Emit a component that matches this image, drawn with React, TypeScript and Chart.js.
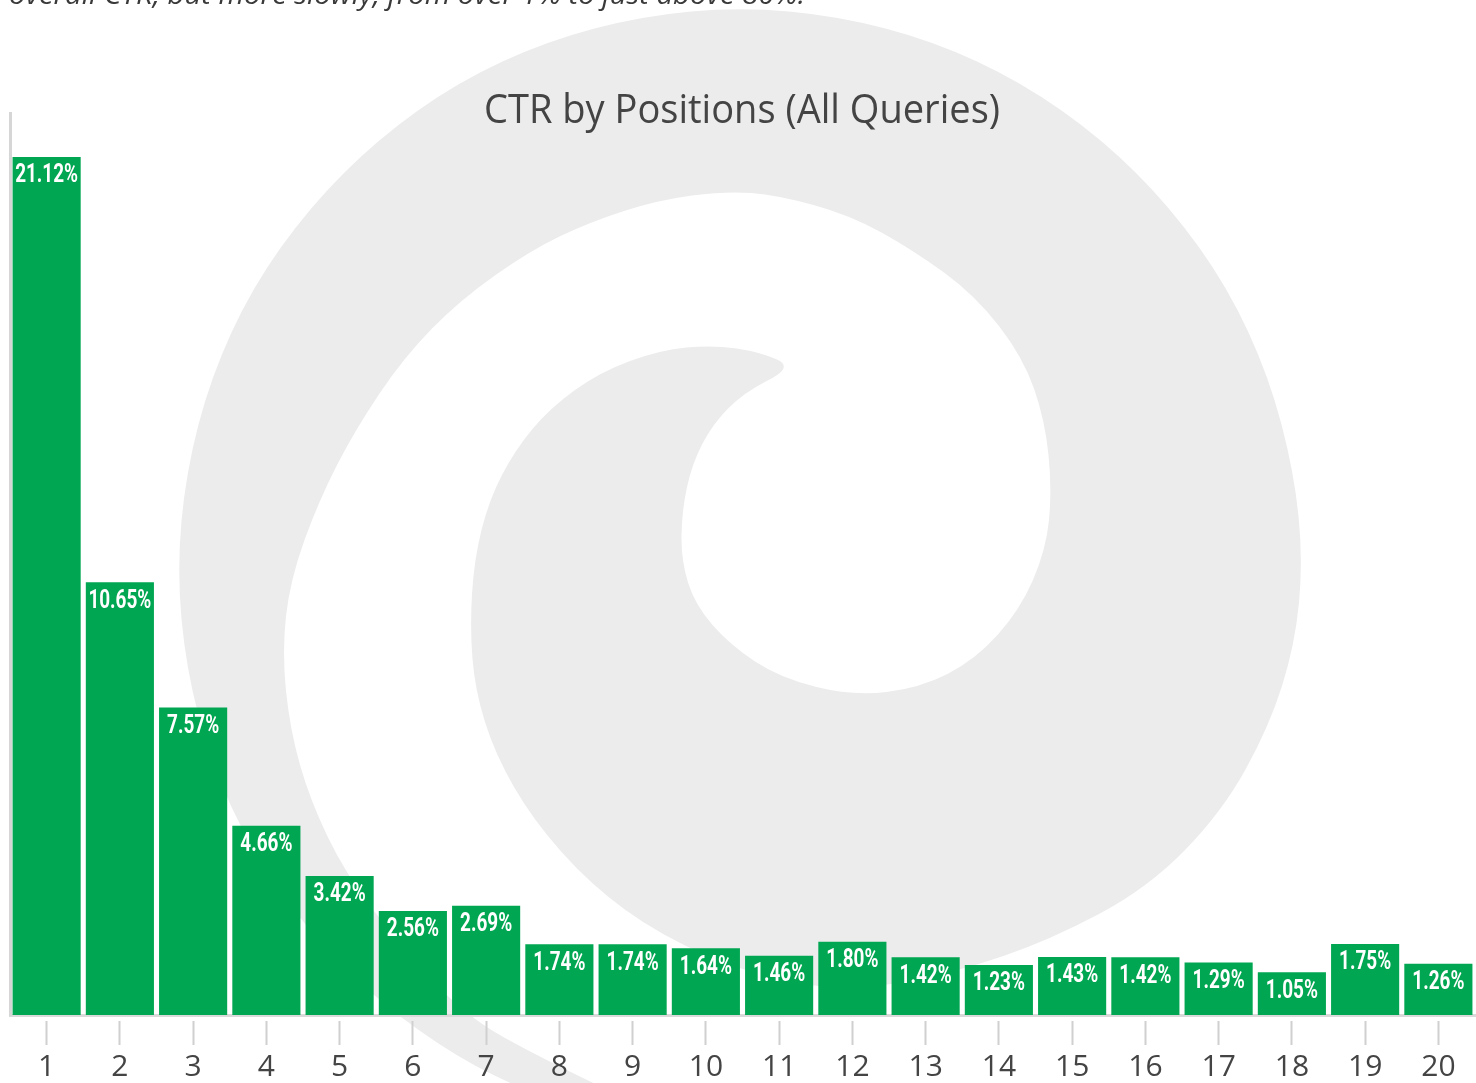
import { useEffect, useRef } from "react";
import { Chart, registerables } from "chart.js";

Chart.register(...registerables);

const positions = ["1", "2", "3", "4", "5", "6", "7", "8", "9", "10", "11", "12", "13", "14", "15", "16", "17", "18", "19", "20"];
const ctrValues = [21.12, 10.65, 7.57, 4.66, 3.42, 2.56, 2.69, 1.74, 1.74, 1.64, 1.46, 1.8, 1.42, 1.23, 1.43, 1.42, 1.29, 1.05, 1.75, 1.26];
const chartTitle = "CTR by Positions (All Queries)";
const introText = "overall CTR, but more slowly, from over 1% to just above 80%.";

// decorative background watermark (spiral) outline
const spiralOuter: number[][] = [
  [560, 1105], [529, 1092], [458, 1058], [378, 1001], [309, 932], [252, 851], [211, 763], [186, 668],
  [177, 570], [186, 472], [211, 377], [252, 288], [309, 208], [378, 139], [458, 82], [547, 41], [642, 16],
  [740, 7], [838, 16], [933, 41], [1021, 82], [1102, 139], [1171, 208], [1228, 288], [1269, 377],
  [1294, 472], [1303, 560], [1295, 645], [1269, 727], [1222, 812], [1148, 888], [1050, 940], [957, 972],
  [850, 992], [751, 975], [660, 935], [591, 885], [533, 820], [495, 754], [475, 690], [470, 628], [474, 560],
  [489, 500], [515, 450], [550, 408], [600, 372], [660, 350], [713, 345], [760, 352], [794, 367],
];
const spiralInner: number[][] = [
  [743, 393], [712, 425], [692, 464], [682, 510], [681, 560], [695, 605], [730, 645], [780, 678],
  [853, 696], [920, 688], [975, 660], [1020, 610], [1046, 550], [1052, 490], [1045, 420], [1023, 357],
  [975, 295], [913, 250], [850, 215], [777, 195], [726, 191], [658, 200], [590, 222], [531, 250],
  [460, 300], [404, 357], [355, 430], [319, 500], [290, 580], [282, 652], [290, 730], [310, 800],
  [345, 873], [400, 945], [465, 1016], [545, 1060], [650, 1110],
];

function tracePath(ctx: CanvasRenderingContext2D, pts: number[][]) {
  const n = pts.length;
  const mid = (a: number[], b: number[]) => [(a[0] + b[0]) / 2, (a[1] + b[1]) / 2];
  const start = mid(pts[n - 1], pts[0]);
  ctx.moveTo(start[0], start[1]);
  for (let i = 0; i < n; i++) {
    const p = pts[i];
    const m = mid(p, pts[(i + 1) % n]);
    ctx.quadraticCurveTo(p[0], p[1], m[0], m[1]);
  }
  ctx.closePath();
}

function fittedText(ctx: CanvasRenderingContext2D, text: string, x: number, y: number, width: number, align: CanvasTextAlign) {
  const w = ctx.measureText(text).width;
  ctx.save();
  ctx.translate(x, y);
  ctx.scale(width / w, 1);
  ctx.textAlign = align;
  ctx.fillText(text, 0, 0);
  ctx.restore();
}

const decorPlugin = {
  id: "decor",
  beforeDraw(chart: any) {
    const ctx: CanvasRenderingContext2D = chart.ctx;
    ctx.save();
    ctx.fillStyle = "#ffffff";
    ctx.fillRect(0, 0, chart.width, chart.height);
    ctx.beginPath();
    tracePath(ctx, [...spiralOuter, ...spiralInner]);
    ctx.fillStyle = "#ececec";
    ctx.fill();

    ctx.fillStyle = "#3a3a3a";
    ctx.textBaseline = "alphabetic";
    ctx.font = "italic 27px 'Open Sans', 'Noto Sans', sans-serif";
    fittedText(ctx, introText, 9, 4, 796, "left");

    ctx.fillStyle = "#444444";
    ctx.font = "40px 'Open Sans', 'Noto Sans', sans-serif";
    fittedText(ctx, chartTitle, 742, 123, 516, "center");
    ctx.restore();
  },
  afterDatasetsDraw(chart: any) {
    const ctx: CanvasRenderingContext2D = chart.ctx;
    const meta = chart.getDatasetMeta(0);
    ctx.save();
    ctx.font = "bold 25px Roboto, 'Noto Sans', sans-serif";
    const ref = ctx.measureText("21.12%").width;
    const sx = 63 / ref;
    ctx.fillStyle = "#ffffff";
    ctx.textBaseline = "middle";
    ctx.textAlign = "center";
    meta.data.forEach((bar: any, i: number) => {
      const label = ctrValues[i].toFixed(2) + "%";
      ctx.save();
      ctx.translate(bar.x, bar.y + 19);
      ctx.scale(sx, 1);
      ctx.fillText(label, 0, 0);
      ctx.restore();
    });
    ctx.restore();
  },
};

export default function App() {
  const ref = useRef<HTMLCanvasElement | null>(null);
  useEffect(() => {
    if (!ref.current) return;
    const chart = new Chart(ref.current, {
      type: "bar",
      data: {
        labels: positions,
        datasets: [
          {
            data: ctrValues,
            backgroundColor: "#00a651",
            borderWidth: 0,
            barPercentage: 0.93,
            categoryPercentage: 1.0,
          },
        ],
      },
      options: {
        responsive: false,
        animation: false,
        layout: { padding: { top: 113, left: 10, right: 1, bottom: -2 } },
        plugins: {
          legend: { display: false },
          title: { display: false },
          tooltip: { enabled: false },
        },
        scales: {
          x: {
            grid: {
              display: true,
              drawOnChartArea: false,
              drawTicks: true,
              tickLength: 34,
              tickWidth: 2,
              tickColor: "#d0d0d0",
              offset: false,
              tickBorderDash: [0, 4, 24, 100],
            },
            border: { display: true, color: "#dadada", width: 3 },
            ticks: {
              color: "#444444",
              font: { family: "'Open Sans', 'Noto Sans', sans-serif", size: 30, lineHeight: 1.0 },
              padding: 3,
              autoSkip: false,
              maxRotation: 0,
            },
          },
          y: {
            min: 0,
            max: 22.2,
            display: true,
            ticks: { display: false },
            grid: { display: false, drawTicks: false },
            border: { display: true, color: "#d6d6d6", width: 3 },
          },
        },
      },
      plugins: [decorPlugin],
    });
    return () => chart.destroy();
  }, []);
  return (
    <div style={{ position: "absolute", left: 0, top: 0, width: 1476, height: 1083 }}>
      <canvas ref={ref} width={1476} height={1083} style={{ display: "block" }} />
    </div>
  );
}
